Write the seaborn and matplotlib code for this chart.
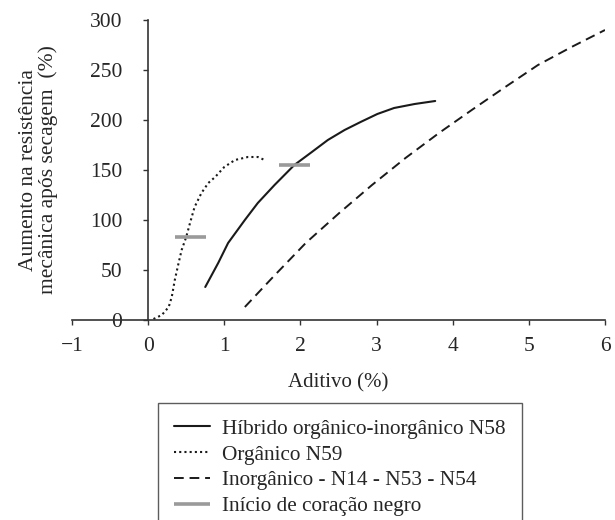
import matplotlib
matplotlib.use("Agg")
import matplotlib.pyplot as plt
import seaborn as sns
import pandas as pd

# Híbrido orgânico-inorgânico N58
hibrido_x = [0.75, 0.92, 1.05, 1.27, 1.44, 1.66, 1.92, 2.15, 2.36, 2.58, 2.79, 3.01,
             3.23, 3.50, 3.77]
hibrido_y = [33, 57, 77, 100, 117, 135, 155, 168, 180, 190, 198, 206, 212, 216, 219]

# Orgânico N59
organico_x = [0.07, 0.18, 0.27, 0.31, 0.35, 0.40, 0.44, 0.50, 0.55, 0.61, 0.70, 0.79,
              0.88, 1.00, 1.14, 1.31, 1.44, 1.53]
organico_y = [1, 5, 13, 23, 40, 57, 70, 83, 97, 113, 127, 137, 143, 153, 160, 163, 163, 160]

# Inorgânico - N14 - N53 - N54
inorg_x = [1.27, 1.64, 2.07, 2.51, 2.94, 3.38, 3.82, 4.25, 4.69, 5.12, 5.56, 6.00]
inorg_y = [13, 43, 77, 107, 135, 162, 187, 210, 233, 255, 273, 290]

# Início de coração negro (horizontal marks)
onset_x0 = [0.35, 1.72]
onset_x1 = [0.76, 2.13]
onset_y = [83, 155]

labels = ["Híbrido orgânico-inorgânico N58", "Orgânico N59",
          "Inorgânico - N14 - N53 - N54", "Início de coração negro"]
x_ticks = [-1, 0, 1, 2, 3, 4, 5, 6]
y_ticks = [0, 50, 100, 150, 200, 250, 300]

sns.set_style("white")
plt.rcParams["font.family"] = ["Liberation Serif", "DejaVu Serif"]

fig = plt.figure(figsize=(6.15, 5.2), dpi=100)
ax = fig.add_axes([72 / 615, 1 - 320 / 520, 533 / 615, 300 / 520])

df_h = pd.DataFrame({"x": hibrido_x, "y": hibrido_y})
df_o = pd.DataFrame({"x": organico_x, "y": organico_y})
df_i = pd.DataFrame({"x": inorg_x, "y": inorg_y})

sns.lineplot(data=df_h, x="x", y="y", ax=ax, color="#1a1a1a", linewidth=1.5,
             label=labels[0], sort=False)
sns.lineplot(data=df_o, x="x", y="y", ax=ax, color="#1a1a1a", linewidth=1.5,
             linestyle=(0, (1, 1.5)), label=labels[1], sort=False)
sns.lineplot(data=df_i, x="x", y="y", ax=ax, color="#1a1a1a", linewidth=1.4,
             linestyle=(0, (5, 3)), label=labels[2], sort=False)
ax.hlines(onset_y, onset_x0, onset_x1, color="#9a9a9a", linewidth=2.6, label=labels[3])

ax.set_xlim(-1, 6)
ax.set_ylim(0, 300)
ax.set_xticks(x_ticks)
ax.set_yticks(y_ticks)
ax.set_xticklabels([f"{t}".replace("-", "\u2212") for t in x_ticks])

for s in ["top", "right"]:
    ax.spines[s].set_visible(False)
ax.spines["left"].set_position(("data", 0))
for s in ["left", "bottom"]:
    ax.spines[s].set_color("#333333")
    ax.spines[s].set_linewidth(1.2)

ax.tick_params(axis="x", direction="out", length=3.5, width=1.0, pad=9,
               labelsize=15.5, color="#333333", bottom=True)
ax.tick_params(axis="y", direction="out", length=3.5, width=1.0, pad=15,
               labelsize=15.5, color="#333333", left=True)
for lbl in ax.get_yticklabels():
    if lbl.get_text() == "0":
        lbl.set_bbox(dict(facecolor="white", edgecolor="none", pad=0.5))

ax.set_xlabel("Aditivo (%)", fontsize=15, labelpad=12)
ax.set_ylabel("Aumento na resistência\nmecânica após secagem  (%)", fontsize=15.5,
              linespacing=1.05)
ax.yaxis.set_label_coords(-0.026, 0.5)

handles, labs = ax.get_legend_handles_labels()
ax.get_legend().remove()
leg = fig.legend(handles, labs, loc="upper center", bbox_to_anchor=(340 / 615, 1 - 403 / 520),
                 fontsize=15.3, frameon=True, fancybox=False, edgecolor="#333333",
                 handlelength=1.7, handletextpad=0.55, labelspacing=0.28, borderpad=0.75,
                 borderaxespad=0)
leg.get_frame().set_linewidth(1.0)

fig.savefig("out.png", dpi=100)
